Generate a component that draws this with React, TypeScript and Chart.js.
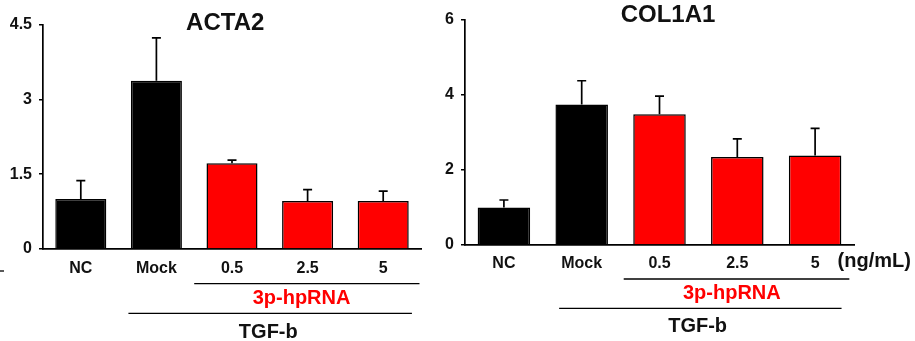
import React, { useEffect, useRef } from "react";
import { Chart, registerables } from "chart.js";

Chart.register(...registerables);

const CATEGORIES = ["NC", "Mock", "0.5", "2.5", "5"];
const BAR_COLORS = ["#000000", "#000000", "#FF0000", "#FF0000", "#FF0000"];

const ACTA2_MEANS = [1.0, 3.37, 1.72, 0.96, 0.96];
const ACTA2_SD = [0.37, 0.86, 0.06, 0.23, 0.2];
const ACTA2_TICKS = [0, 1.5, 3, 4.5];

const COL1A1_MEANS = [1.0, 3.75, 3.49, 2.35, 2.39];
const COL1A1_SD = [0.2, 0.63, 0.48, 0.48, 0.72];
const COL1A1_TICKS = [0, 2, 4, 6];

const FONT = "'Liberation Sans', Arial, sans-serif";
const TEXT = "#111111";
const RED = "#FF0000";

type Group = { from: number; to: number; y: number; label: string; labelU: number; labelY: number; color: string };
type PanelSpec = {
  title: string;
  titleU: number;
  titleY: number;
  means: number[];
  sd: number[];
  ticks: number[];
  yWidth: number;
  padRight: number;
  padTop: number;
  xHeight: number;
  labelPad: number;
  unit?: { text: string; u: number; y: number };
  groups: Group[];
  dash?: boolean;
};

function catPx(scale: any, u: number) {
  const p0 = scale.getPixelForTick(0);
  const p1 = scale.getPixelForTick(1);
  return p0 + u * (p1 - p0);
}

function Panel({ spec, left, width }: { spec: PanelSpec; left: number; width: number }) {
  const ref = useRef<HTMLCanvasElement | null>(null);
  useEffect(() => {
    if (!ref.current) return;
    const extras = {
      id: "extras",
      afterDatasetsDraw(chart: any) {
        const ctx = chart.ctx;
        const meta = chart.getDatasetMeta(0);
        const ys = chart.scales.y;
        ctx.save();
        ctx.strokeStyle = "#000";
        ctx.lineWidth = 1.7;
        meta.data.forEach((bar: any, i: number) => {
          const top = ys.getPixelForValue(spec.means[i] + spec.sd[i]);
          ctx.beginPath();
          ctx.moveTo(bar.x, bar.y);
          ctx.lineTo(bar.x, top);
          ctx.moveTo(bar.x - 4.5, top);
          ctx.lineTo(bar.x + 4.5, top);
          ctx.stroke();
        });
        ctx.restore();
      },
      afterDraw(chart: any) {
        const ctx = chart.ctx;
        const xs = chart.scales.x;
        ctx.save();
        ctx.textAlign = "center";
        ctx.textBaseline = "middle";
        ctx.fillStyle = TEXT;
        ctx.font = `bold 24px ${FONT}`;
        ctx.fillText(spec.title, catPx(xs, spec.titleU), spec.titleY);
        if (spec.unit) {
          ctx.font = `bold 20px ${FONT}`;
          ctx.fillText(spec.unit.text, catPx(xs, spec.unit.u), spec.unit.y);
        }
        spec.groups.forEach((g) => {
          ctx.strokeStyle = "#000";
          ctx.lineWidth = 1.3;
          ctx.beginPath();
          ctx.moveTo(catPx(xs, g.from), g.y);
          ctx.lineTo(catPx(xs, g.to), g.y);
          ctx.stroke();
          ctx.fillStyle = g.color;
          ctx.font = `bold 20px ${FONT}`;
          ctx.fillText(g.label, catPx(xs, g.labelU), g.labelY);
        });
        if (spec.dash) {
          ctx.strokeStyle = "#000";
          ctx.lineWidth = 1.3;
          ctx.beginPath();
          ctx.moveTo(0, 271);
          ctx.lineTo(4, 271);
          ctx.stroke();
        }
        ctx.restore();
      },
    };
    const chart = new Chart(ref.current, {
      type: "bar",
      data: {
        labels: CATEGORIES,
        datasets: [
          {
            data: spec.means,
            backgroundColor: BAR_COLORS,
            borderColor: "#000",
            borderWidth: 1.5,
            barPercentage: 0.675,
            categoryPercentage: 1,
          },
        ],
      },
      options: {
        animation: false,
        responsive: false,
        maintainAspectRatio: false,
        layout: { padding: { left: 0, right: spec.padRight, top: spec.padTop, bottom: 0 } },
        plugins: { legend: { display: false }, tooltip: { enabled: false }, title: { display: false } },
        scales: {
          x: {
            grid: { display: false, drawTicks: false, tickLength: 0 },
            border: { display: true, color: "#000", width: 1.7 },
            ticks: { color: TEXT, font: { family: FONT, size: 16, weight: "bold" }, padding: spec.labelPad, maxRotation: 0 },
            afterFit(s: any) {
              s.height = spec.xHeight;
            },
          },
          y: {
            min: spec.ticks[0],
            max: spec.ticks[spec.ticks.length - 1],
            afterBuildTicks(s: any) {
              s.ticks = spec.ticks.map((v) => ({ value: v }));
            },
            grid: { drawOnChartArea: false, drawTicks: true, tickLength: 4, color: "#000", lineWidth: 1.5 },
            border: { display: true, color: "#000", width: 1.7 },
            ticks: {
              color: TEXT,
              font: { family: FONT, size: 16, weight: "bold" },
              padding: 7,
              callback: (v: any) => String(v),
            },
            afterFit(s: any) {
              s.width = spec.yWidth;
            },
          },
        },
      },
      plugins: [extras],
    } as any);
    return () => chart.destroy();
  }, [spec]);
  return (
    <canvas
      ref={ref}
      width={width}
      height={341}
      style={{ position: "absolute", left, top: 0, width, height: 341 }}
    />
  );
}

const LEFT_SPEC: PanelSpec = {
  title: "ACTA2",
  titleU: 1.91,
  titleY: 23,
  means: ACTA2_MEANS,
  sd: ACTA2_SD,
  ticks: ACTA2_TICKS,
  yWidth: 43,
  padRight: 9,
  padTop: 24.5,
  xHeight: 92,
  labelPad: 10,
  groups: [
    { from: 1.5, to: 4.48, y: 283.7, label: "3p-hpRNA", labelU: 2.92, labelY: 298, color: RED },
    { from: 0.63, to: 4.38, y: 313.3, label: "TGF-b", labelU: 2.48, labelY: 332, color: TEXT },
  ],
  dash: true,
};

const RIGHT_SPEC: PanelSpec = {
  title: "COL1A1",
  titleU: 2.11,
  titleY: 15,
  means: COL1A1_MEANS,
  sd: COL1A1_SD,
  ticks: COL1A1_TICKS,
  yWidth: 35,
  padRight: 61,
  padTop: 20,
  xHeight: 96,
  labelPad: 9,
  unit: { text: "(ng/mL)", u: 4.76, y: 261 },
  groups: [
    { from: 1.54, to: 4.44, y: 279, label: "3p-hpRNA", labelU: 2.93, labelY: 293.3, color: RED },
    { from: 0.71, to: 4.34, y: 308.3, label: "TGF-b", labelU: 2.49, labelY: 326.7, color: TEXT },
  ],
};

export default function App() {
  return (
    <div style={{ position: "absolute", left: 0, top: 0, width: 915, height: 341, background: "#fff", overflow: "hidden" }}>
      <Panel spec={LEFT_SPEC} left={0} width={430} />
      <Panel spec={RIGHT_SPEC} left={430} width={485} />
    </div>
  );
}
